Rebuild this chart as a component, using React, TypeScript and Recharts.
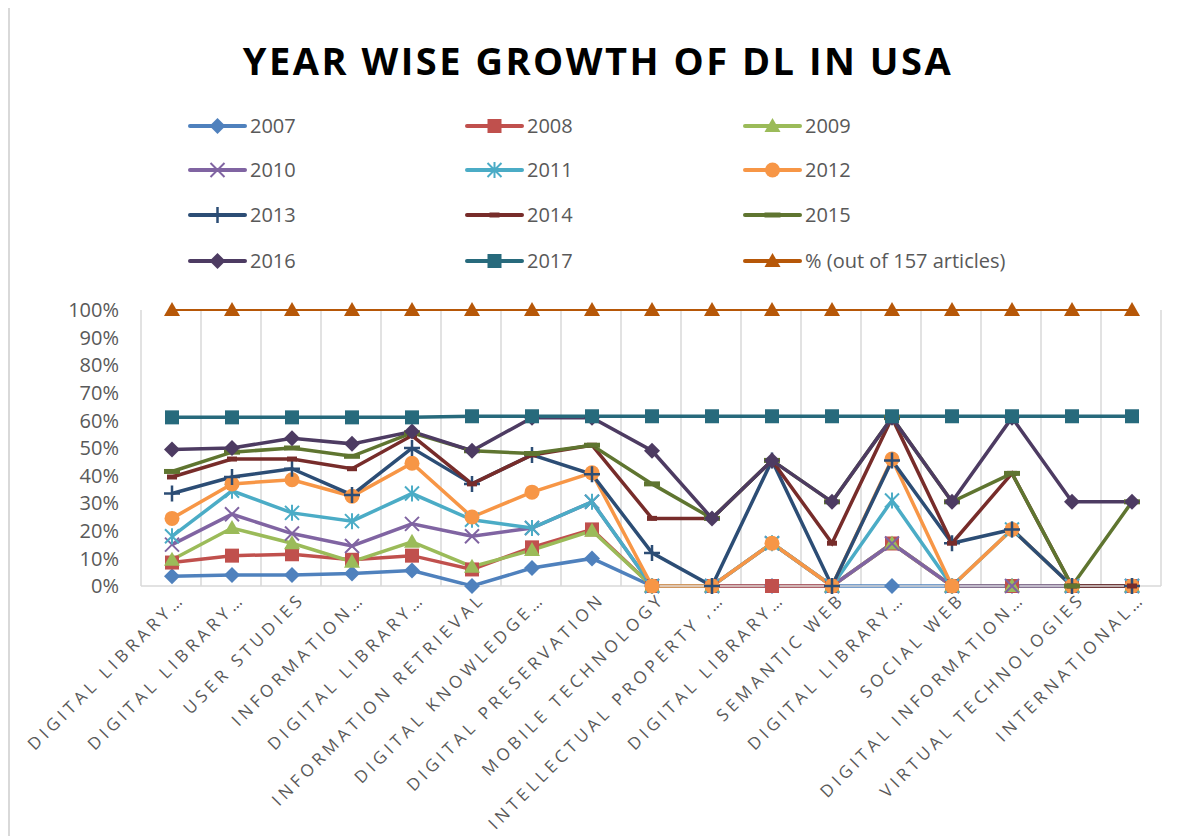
import React from 'react';
import { LineChart, Line, XAxis, YAxis, CartesianGrid } from 'recharts';

const categories = [
  'DIGITAL LIBRARY…',
  'DIGITAL LIBRARY…',
  'USER STUDIES',
  'INFORMATION…',
  'DIGITAL LIBRARY…',
  'INFORMATION RETRIEVAL',
  'DIGITAL KNOWLEDGE…',
  'DIGITAL PRESERVATION',
  'MOBILE TECHNOLOGY',
  'INTELLECTUAL PROPERTY ,…',
  'DIGITAL LIBRARY…',
  'SEMANTIC WEB',
  'DIGITAL LIBRARY…',
  'SOCIAL WEB',
  'DIGITAL INFORMATION…',
  'VIRTUAL TECHNOLOGIES',
  'INTERNATIONAL…',
];

const y2007 = [3.5, 4, 4, 4.5, 5.6, 0, 6.5, 10, 0, 0, 0, 0, 0, 0, 0, 0, 0];
const y2008 = [8.5, 11, 11.5, 9.5, 11, 6, 14, 20.5, 0, 0, 0, 0, 15.4, 0, 0, 0, 0];
const y2009 = [9.5, 21, 15.5, 8.8, 16, 7, 13, 20, 0, 0, 15.5, 0, 15.4, 0, 0, 0, 0];
const y2010 = [15, 26, 19, 14.5, 22.5, 18, 21, 30.5, 0, 0, 15.5, 0, 15.4, 0, 0, 0, 0];
const y2011 = [18, 34.5, 26.5, 23.5, 33.5, 24, 21, 30.5, 0, 0, 15.5, 0, 31, 0, 20.5, 0, 0];
const y2012 = [24.5, 37, 38.5, 32.5, 44.5, 25, 34, 41, 0, 0, 15.5, 0, 46, 0, 20.5, 0, 0];
const y2013 = [33.5, 39.5, 42.5, 33, 50, 37, 47.5, 40.5, 12, 0, 45.5, 0, 45.5, 15.5, 20.5, 0, 0];
const y2014 = [39.5, 46, 46, 42.5, 54.5, 37, 47.5, 51, 24.5, 24.5, 45.5, 15.5, 61, 15.5, 40.8, 0, 0];
const y2015 = [41.5, 48.5, 50, 47, 55.5, 49, 48, 51, 37, 24.5, 45.5, 30.5, 61, 30.5, 40.8, 0, 30.5];
const y2016 = [49.5, 50, 53.5, 51.5, 56, 49, 61, 61, 49, 24.5, 45.5, 30.5, 61, 30.5, 61, 30.5, 30.5];
const y2017 = [61.1, 61.1, 61.1, 61.1, 61.1, 61.5, 61.5, 61.5, 61.5, 61.5, 61.5, 61.5, 61.5, 61.5, 61.5, 61.5, 61.5];
const pctOf157 = [100, 100, 100, 100, 100, 100, 100, 100, 100, 100, 100, 100, 100, 100, 100, 100, 100];

const yTicks = [0, 10, 20, 30, 40, 50, 60, 70, 80, 90, 100];

type Shape = 'diamond' | 'square' | 'triangle' | 'x' | 'star' | 'circle' | 'plus' | 'dash' | 'longdash';

const series: { key: string; name: string; color: string; shape: Shape; values: number[]; width: number }[] = [
  { key: 's2007', name: '2007', color: '#4F81BD', shape: 'diamond', values: y2007, width: 3.5 },
  { key: 's2008', name: '2008', color: '#C0504D', shape: 'square', values: y2008, width: 3.5 },
  { key: 's2009', name: '2009', color: '#9BBB59', shape: 'triangle', values: y2009, width: 3.5 },
  { key: 's2010', name: '2010', color: '#8064A2', shape: 'x', values: y2010, width: 3.5 },
  { key: 's2011', name: '2011', color: '#4BACC6', shape: 'star', values: y2011, width: 3.5 },
  { key: 's2012', name: '2012', color: '#F79646', shape: 'circle', values: y2012, width: 3.5 },
  { key: 's2013', name: '2013', color: '#2C4D75', shape: 'plus', values: y2013, width: 3.5 },
  { key: 's2014', name: '2014', color: '#772C2A', shape: 'dash', values: y2014, width: 3.5 },
  { key: 's2015', name: '2015', color: '#5F7530', shape: 'longdash', values: y2015, width: 3.5 },
  { key: 's2016', name: '2016', color: '#4D3B62', shape: 'diamond', values: y2016, width: 3.5 },
  { key: 's2017', name: '2017', color: '#276A7C', shape: 'square', values: y2017, width: 3.5 },
  { key: 'pct', name: '% (out of 157 articles)', color: '#B65708', shape: 'triangle', values: pctOf157, width: 2 },
];

const data = categories.map((cat, i) => {
  const row: Record<string, number | string> = { idx: i, cat };
  series.forEach((s) => {
    row[s.key] = s.values[i];
  });
  return row;
});

const FONT = '"Open Sans", sans-serif';
const GRAY = '#595959';

function Marker({ shape, cx, cy, color }: { shape: Shape; cx: number; cy: number; color: string }) {
  if (cx == null || cy == null) return null;
  switch (shape) {
    case 'diamond':
      return <polygon points={`${cx},${cy - 8} ${cx + 8},${cy} ${cx},${cy + 8} ${cx - 8},${cy}`} fill={color} />;
    case 'square':
      return <rect x={cx - 7} y={cy - 7} width={14} height={14} fill={color} />;
    case 'triangle':
      return <polygon points={`${cx},${cy - 8} ${cx + 8},${cy + 6} ${cx - 8},${cy + 6}`} fill={color} />;
    case 'x':
      return (
        <path d={`M${cx - 7},${cy - 7}L${cx + 7},${cy + 7}M${cx + 7},${cy - 7}L${cx - 7},${cy + 7}`} stroke={color} strokeWidth={2} />
      );
    case 'star':
      return (
        <path
          d={`M${cx - 7},${cy - 7}L${cx + 7},${cy + 7}M${cx + 7},${cy - 7}L${cx - 7},${cy + 7}M${cx},${cy - 8}L${cx},${cy + 8}`}
          stroke={color}
          strokeWidth={2}
        />
      );
    case 'circle':
      return <circle cx={cx} cy={cy} r={7.5} fill={color} />;
    case 'plus':
      return <path d={`M${cx - 8},${cy}L${cx + 8},${cy}M${cx},${cy - 8}L${cx},${cy + 8}`} stroke={color} strokeWidth={2.5} />;
    case 'dash':
      return <rect x={cx - 5} y={cy - 2.5} width={10} height={5} fill={color} />;
    case 'longdash':
      return <rect x={cx - 8} y={cy - 2.5} width={16} height={5} fill={color} />;
  }
  return null;
}

function XTick(props: any) {
  const { x, y, payload } = props;
  const tx = x + 14;
  const ty = y + 14;
  return (
    <text
      x={tx}
      y={ty}
      transform={`rotate(-45 ${tx} ${ty})`}
      textAnchor="end"
      fill={GRAY}
      fontSize={17}
      fontFamily={FONT}
      letterSpacing={4.2}
    >
      {categories[payload.value]}
    </text>
  );
}

const legendCols = [182, 459, 737];
const legendRows = [118, 162, 207, 253];

export default function App() {
  return (
    <div style={{ position: 'relative', width: 1166, height: 828 }}>
      <div style={{ position: 'absolute', left: 0, top: -8, width: 1.5, height: 836, background: '#D9D9D9' }} />
      <LineChart width={1166} height={828} data={data} margin={{ top: 302, right: 13, left: 0, bottom: 0 }}>
        <CartesianGrid
          horizontal={false}
          stroke="#D9D9D9"
          strokeWidth={1.5}
          verticalCoordinatesGenerator={(args: any) => {
            const o = args.offset;
            return categories.concat(['']).map((_, i) => o.left + (i * o.width) / categories.length);
          }}
        />
        <XAxis
          dataKey="idx"
          type="category"
          padding={{ left: 31, right: 29 }}
          height={250}
          tickLine={false}
          tickSize={0}
          tickMargin={0}
          axisLine={{ stroke: '#D9D9D9', strokeWidth: 1.5 }}
          tick={<XTick />}
          interval={0}
        />
        <YAxis
          width={133}
          domain={[0, 100]}
          ticks={yTicks}
          tickFormatter={(v: number) => `${v}%`}
          axisLine={false}
          tickLine={false}
          tickSize={0}
          tickMargin={22}
          tick={{ fill: GRAY, fontSize: 20, fontFamily: FONT }}
          interval={0}
        />
        {series.map((s) => (
          <Line
            key={s.key}
            dataKey={s.key}
            name={s.name}
            stroke={s.color}
            strokeWidth={s.width}
            isAnimationActive={false}
            activeDot={false}
            dot={(p: any) => (
              <g key={`${s.key}-${p.index}`}>
                <Marker shape={s.shape} cx={p.cx} cy={p.cy} color={s.color} />
              </g>
            )}
          />
        ))}
      </LineChart>
      <svg width={1166} height={300} style={{ position: 'absolute', left: 0, top: 0, pointerEvents: 'none' }}>
        <text
          x={590}
          y={67}
          textAnchor="middle"
          fontFamily={FONT}
          fontWeight={700}
          fontSize={38}
          letterSpacing={2.5}
          fill="#000"
        >
          YEAR WISE GROWTH OF DL IN USA
        </text>
        {series.map((s, i) => {
          const lx = legendCols[i % 3];
          const ly = legendRows[Math.floor(i / 3)];
          return (
            <g key={s.key}>
              <line x1={lx} y1={ly} x2={lx + 55} y2={ly} stroke={s.color} strokeWidth={4} strokeLinecap="round" />
              <Marker shape={s.shape} cx={lx + 27.5} cy={ly} color={s.color} />
              <text x={lx + 60} y={ly} dy="0.35em" fontFamily={FONT} fontSize={20} fill={GRAY}>
                {s.name}
              </text>
            </g>
          );
        })}
      </svg>
    </div>
  );
}
